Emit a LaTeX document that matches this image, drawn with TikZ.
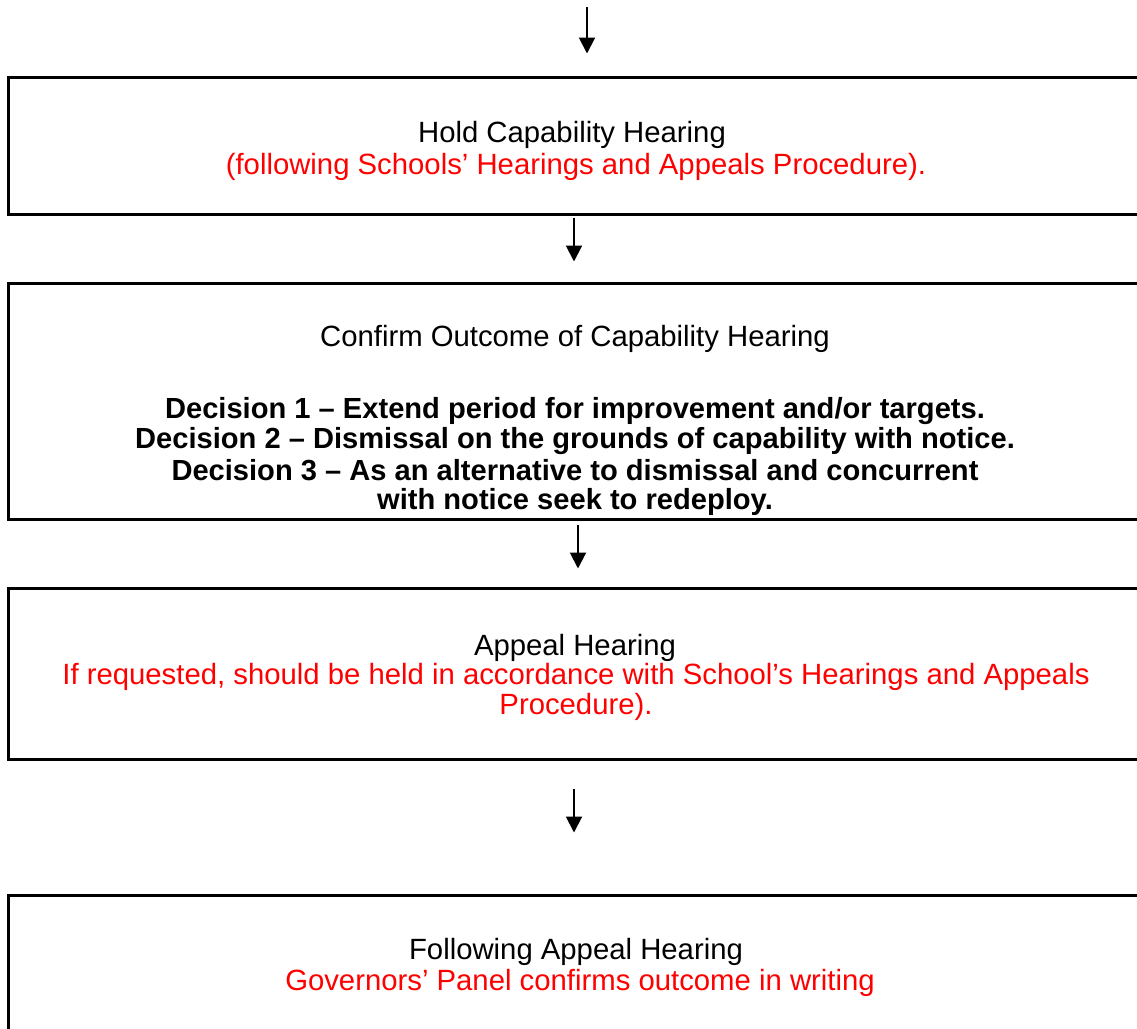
\documentclass[tikz,border=0pt]{standalone}
\usepackage{fontspec}
\setmainfont{Liberation Sans}
\usetikzlibrary{arrows.meta}
\definecolor{redtext}{RGB}{255,0,0}
\begin{document}
\begin{tikzpicture}[x=1pt,y=-1pt,
  box/.style={draw, line width=3pt, rectangle, inner sep=0pt, minimum width=1134pt},
  txt/.style={anchor=base, inner sep=0pt, font=\fontsize{29.3}{34}\selectfont},
  redtxt/.style={txt, text=redtext},
  boldtxt/.style={txt, font=\fontsize{29.1}{34}\selectfont\bfseries},
  arr/.style={draw, line width=2pt, -{Triangle[length=16pt,width=16pt]}}
]
\useasboundingbox (0,0) rectangle (1137,1028);
\clip (0,0) rectangle (1137,1028);

\node[box, minimum height=137pt] (box1) at (575,145.5) {};
\node[box, minimum height=236pt] (box2) at (575,401) {};
\node[box, minimum height=171pt] (box3) at (575,673.5) {};
\node[box, minimum height=139pt] (box4) at (575,964.5) {};

\node[txt] (t1a) at (572,142.5) {Hold Capability Hearing};
\node[redtxt] (t1b) at (576,174) {(following Schools’ Hearings and Appeals Procedure).};

\node[txt] (t2a) at (575,346) {Confirm Outcome of Capability Hearing};
\node[boldtxt] (t2b) at (575,418) {Decision 1 – Extend period for improvement and/or targets.};
\node[boldtxt] (t2c) at (575,448) {Decision 2 – Dismissal on the grounds of capability with notice.};
\node[boldtxt] (t2d) at (575,480) {Decision 3 – As an alternative to dismissal and concurrent};
\node[boldtxt] (t2e) at (575,509) {with notice seek to redeploy.};

\node[txt] (t3a) at (575,655) {Appeal Hearing};
\node[redtxt] (t3b) at (576,684.5) {If requested, should be held in accordance with School’s Hearings and Appeals};
\node[redtxt] (t3c) at (576,714.5) {Procedure).};

\node[txt] (t4a) at (576,959) {Following Appeal Hearing};
\node[redtxt] (t4b) at (580,990) {Governors’ Panel confirms outcome in writing};

\draw[arr, shorten >=22pt] ([xshift=12pt]box1.north) ++(0,-69) -- ([xshift=12pt]box1.north);
\draw[arr, shorten <=2pt, shorten >=20pt] ([xshift=-1pt]box1.south) -- ([xshift=-1pt]box2.north);
\draw[arr, shorten <=4pt, shorten >=18pt] ([xshift=3pt]box2.south) -- ([xshift=3pt]box3.north);
\draw[arr, shorten <=28pt, shorten >=61pt] ([xshift=-1pt]box3.south) -- ([xshift=-1pt]box4.north);
\end{tikzpicture}
\end{document}
